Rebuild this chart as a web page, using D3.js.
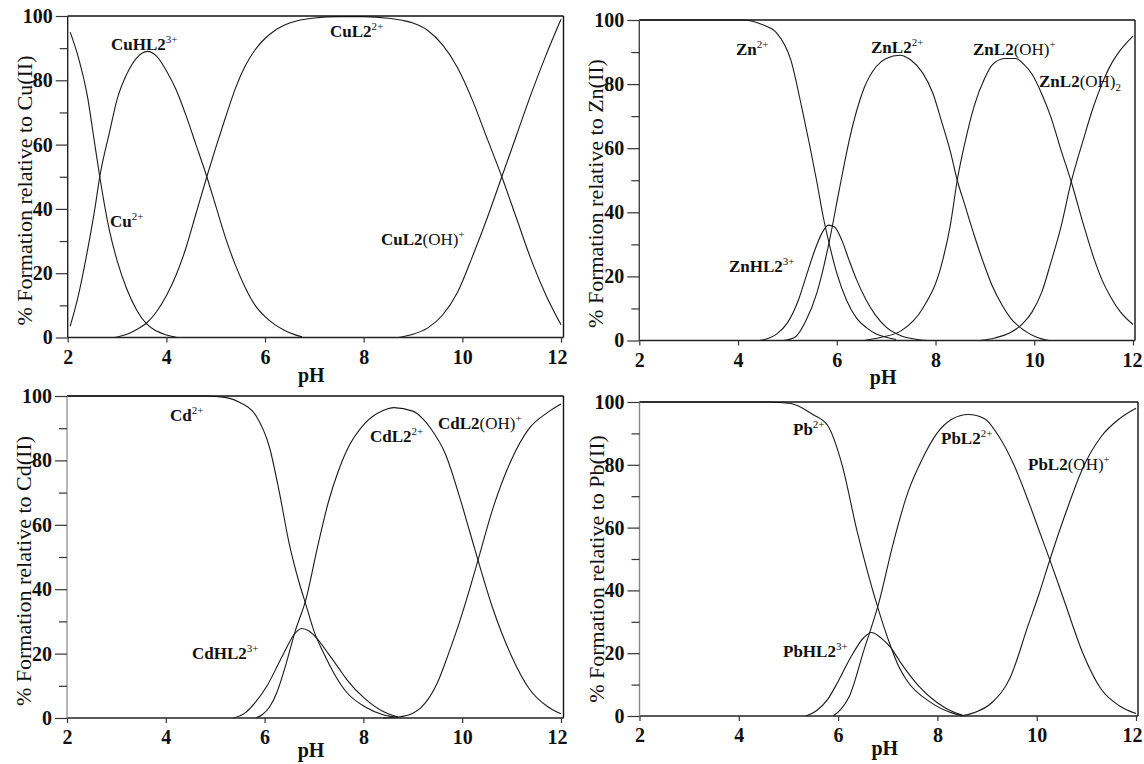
<!DOCTYPE html>
<html><head><meta charset="utf-8">
<script src="https://cdn.jsdelivr.net/npm/d3@7"></script>
<style>body{margin:0;background:#fff}svg{display:block}</style>
</head><body>
<svg id="c" width="1144" height="764"></svg>
<script>
// ---------- tick values ----------
const xTicks = [2, 4, 6, 8, 10, 12];
const yTicks = [0, 20, 40, 60, 80, 100];
const yMinor = [10, 30, 50, 70, 90];

// ---------- Cu(II) species: [pH, %] ----------
const cuFree = [[2.05,95],[2.2,88],[2.4,75],[2.55,60],[2.65,50],[2.85,33],[3.0,24],[3.2,15],[3.4,8.5],[3.6,4.2],[3.8,2],[4.0,0.8],[4.2,0.1]];
const cuHL2 = [[2.05,3.5],[2.2,12],[2.4,27],[2.55,40],[2.65,50],[2.85,64],[3.0,74],[3.2,82],[3.4,87],[3.62,89],[3.8,87.5],[4.0,83],[4.2,77],[4.4,69],[4.6,60],[4.82,50],[5.0,41],[5.2,31],[5.4,22.5],[5.6,15.5],[5.8,10],[6.0,6.5],[6.2,4],[6.4,2.2],[6.6,0.9],[6.75,0.2]];
const cuL2 = [[2.95,0],[3.2,1],[3.4,2.5],[3.6,4.5],[3.8,8],[4.0,13],[4.2,19.5],[4.4,28],[4.6,38.5],[4.82,50],[5.0,59],[5.2,68.5],[5.4,77.5],[5.6,84.5],[5.8,89.5],[6.0,93],[6.2,95.5],[6.5,97.8],[7.0,99.4],[7.5,99.8],[8.0,99.8],[8.5,99.3],[8.8,98.6],[9.0,97.8],[9.3,95.5],[9.6,91],[9.9,84],[10.2,74],[10.5,62],[10.8,50],[11.1,37],[11.4,24],[11.7,13],[12.0,4]];
const cuL2OH = [[8.7,0],[9.0,1],[9.3,3],[9.6,7],[9.9,14],[10.2,25],[10.5,37],[10.8,50],[11.1,63],[11.4,76],[11.7,88],[12.0,99]];

// ---------- Zn(II) species ----------
const znFree = [[2.0,100],[4.1,100],[4.5,98.5],[4.78,96],[5.07,87.5],[5.3,72],[5.45,61],[5.59,50],[5.72,39],[5.85,30],[6.0,21],[6.2,12.5],[6.4,7],[6.6,4],[6.8,2],[7.0,1],[7.2,0.3]];
const znHL2 = [[4.44,0],[4.78,2],[5.0,5.5],[5.22,12.5],[5.4,21],[5.55,28],[5.7,33.5],[5.83,36],[5.95,35.5],[6.11,31],[6.25,25],[6.4,19],[6.6,12.5],[6.78,8],[7.0,4.2],[7.3,1.5],[7.6,0.4],[7.85,0]];
const znL2 = [[4.93,0],[5.15,1],[5.37,6],[5.6,15],[5.85,31],[6.05,47],[6.26,63],[6.56,79],[6.8,85.5],[7.0,88],[7.28,89],[7.5,87.5],[7.74,83.5],[7.95,77],[8.11,69],[8.3,59],[8.44,50],[8.6,42],[8.78,33],[9.0,23],[9.15,17],[9.35,11],[9.52,7],[9.81,3],[10.05,1],[10.3,0]];
const znL2OH = [[6.56,0],[6.9,1],[7.3,3],[7.74,10],[8.11,23],[8.3,36],[8.44,50],[8.6,62],[8.78,73],[9.0,82],[9.15,86],[9.4,88],[9.62,88],[9.8,86],[9.96,83],[10.15,77],[10.33,70],[10.55,59],[10.74,50],[11.0,36],[11.2,26],[11.37,19],[11.55,13.5],[11.74,9],[12.0,5]];
const znL2OH2 = [[8.89,0],[9.2,0.8],[9.52,2.5],[9.75,5],[9.96,9],[10.15,15],[10.33,24],[10.55,36],[10.74,49],[11.0,63],[11.2,73],[11.37,80],[11.55,86],[11.74,90.5],[12.0,95]];

// ---------- Cd(II) species ----------
const cdFree = [[2.0,100],[4.8,100],[5.23,99.5],[5.5,98],[5.82,94],[6.1,84],[6.3,70],[6.5,54],[6.7,42],[6.84,35],[7.0,27],[7.2,20],[7.4,14],[7.66,8],[8.03,3.5],[8.4,1],[8.7,0.2]];
const cdHL2 = [[5.37,0],[5.6,1.5],[5.82,5],[6.05,10],[6.27,16.5],[6.45,22],[6.6,26],[6.75,27.8],[6.9,27],[7.07,24.5],[7.29,20],[7.5,15.5],[7.66,12],[8.03,6],[8.4,2],[8.7,0.3]];
const cdL2 = [[5.82,0],[5.95,1],[6.1,3.4],[6.25,8],[6.4,15],[6.62,27],[6.84,37],[7.07,53],[7.29,67],[7.5,77],[7.66,83],[8.03,91.5],[8.4,95.5],[8.62,96.4],[9.0,95.3],[9.2,93],[9.36,90],[9.66,82],[9.95,68.5],[10.15,58],[10.32,49],[10.62,34],[10.99,19.5],[11.36,9],[11.74,3.4],[12.0,1.3]];
const cdL2OH = [[8.4,0],[8.7,0.3],[9.0,1.5],[9.15,3],[9.5,11],[9.7,19],[9.95,30],[10.15,40],[10.32,49],[10.62,65],[10.99,80],[11.36,90],[11.74,95],[12.0,97.5]];

// ---------- Pb(II) species ----------
const pbFree = [[2.0,100],[4.6,100],[5.05,99.5],[5.49,96],[5.79,92.5],[6.08,80],[6.38,59],[6.6,45.5],[6.82,33.5],[7.04,23],[7.2,16.5],[7.4,11],[7.85,4.5],[8.29,1],[8.5,0.2]];
const pbHL2 = [[5.35,0],[5.55,1.5],[5.79,5.3],[6.0,11],[6.23,18],[6.52,25],[6.67,26.6],[6.89,24.5],[7.05,22],[7.26,17],[7.62,9.6],[7.99,4.3],[8.36,1],[8.5,0.3]];
const pbL2 = [[5.9,0],[6.05,2],[6.23,6.4],[6.52,21],[6.82,36],[7.11,55],[7.4,71],[7.7,82],[7.99,90],[8.29,94.5],[8.62,96],[8.95,94.7],[9.24,89],[9.54,80],[9.83,68.5],[10.05,59],[10.27,49.5],[10.57,36],[10.93,20],[11.3,8.5],[11.67,3.2],[12.0,0.8]];
const pbL2OH = [[8.45,0],[8.73,1],[9.1,4.3],[9.46,12],[9.83,29],[10.05,39],[10.27,50],[10.57,64],[10.93,79],[11.3,89],[11.67,94.7],[12.0,98]];

// ---------- curve labels (text parts) ----------
const cuLabels = [
  {x:111, y:50,  parts:[["CuHL2","b"],["3+","sup"]]},
  {x:330, y:37,  parts:[["CuL2","b"],["2+","sup"]]},
  {x:110, y:227, parts:[["Cu","b"],["2+","sup"]]},
  {x:381, y:245, parts:[["CuL2","b"],["(OH)","n"],["+","sup"]]}
];
const znLabels = [
  {x:736, y:55,  parts:[["Zn","b"],["2+","sup"]]},
  {x:871, y:53,  parts:[["ZnL2","b"],["2+","sup"]]},
  {x:973, y:55,  parts:[["ZnL2","b"],["(OH)","n"],["+","sup"]]},
  {x:1039,y:87,  parts:[["ZnL2","b"],["(OH)","n"],["2","sub"]]},
  {x:729, y:272, parts:[["ZnHL2","b"],["3+","sup"]]}
];
const cdLabels = [
  {x:170, y:421, parts:[["Cd","b"],["2+","sup"]]},
  {x:370, y:442, parts:[["CdL2","b"],["2+","sup"]]},
  {x:438, y:429, parts:[["CdL2","b"],["(OH)","n"],["+","sup"]]},
  {x:192, y:659, parts:[["CdHL2","b"],["3+","sup"]]}
];
const pbLabels = [
  {x:793, y:435, parts:[["Pb","b"],["2+","sup"]]},
  {x:941, y:444, parts:[["PbL2","b"],["2+","sup"]]},
  {x:1028,y:470, parts:[["PbL2","b"],["(OH)","n"],["+","sup"]]},
  {x:783, y:657, parts:[["PbHL2","b"],["3+","sup"]]}
];

const yTitles = ["% Formation relative to Cu(II)","% Formation relative to Zn(II)","% Formation relative to Cd(II)","% Formation relative to Pb(II)"];
const xTitle = "pH";

// ---------- layout ----------
const panels = [
  {x0:67.7, x1:561,  right:563.5, top:16,  bot:337.5, leftCol:"#222", titleDy:44, lastDx:-4, series:[cuFree,cuHL2,cuL2,cuL2OH], labels:cuLabels, ytitle:yTitles[0]},
  {x0:639.3,x1:1133, right:1135,  top:20,  bot:340.5, leftCol:"#444", titleDy:43, lastDx:-1, series:[znFree,znHL2,znL2,znL2OH,znL2OH2], labels:znLabels, ytitle:yTitles[1]},
  {x0:67,   x1:561,  right:563.5, top:396, bot:718,   leftCol:"#999", titleDy:39, lastDx:-4, series:[cdFree,cdHL2,cdL2,cdL2OH], labels:cdLabels, ytitle:yTitles[2]},
  {x0:639.5,x1:1136, right:1138,  top:402, bot:716,   leftCol:"#888", titleDy:39, lastDx:-4, series:[pbFree,pbHL2,pbL2,pbL2OH], labels:pbLabels, ytitle:yTitles[3]}
];

const FONT = '"Liberation Serif","Times New Roman",serif';
const svg = d3.select("#c");

panels.forEach(p => {
  const x = d3.scaleLinear().domain([2,12]).range([p.x0, p.x1]);
  const y = d3.scaleLinear().domain([0,100]).range([p.bot, p.top]);
  const g = svg.append("g");

  // curves
  const line = d3.line().x(d=>x(d[0])).y(d=>y(d[1])).curve(d3.curveMonotoneX);
  p.series.forEach(s => {
    g.append("path").attr("d", line(s)).attr("fill","none")
      .attr("stroke","#1a1a1a").attr("stroke-width",1.1);
  });

  // frame
  g.append("line").attr("x1",p.x0).attr("x2",p.right).attr("y1",p.top).attr("y2",p.top).attr("stroke","#111").attr("stroke-width",1.4);
  g.append("line").attr("x1",p.right).attr("x2",p.right).attr("y1",p.top).attr("y2",p.bot).attr("stroke","#111").attr("stroke-width",1.4);
  g.append("line").attr("x1",p.x0).attr("x2",p.right).attr("y1",p.bot).attr("y2",p.bot).attr("stroke","#222").attr("stroke-width",1.4);
  g.append("line").attr("x1",p.x0).attr("x2",p.x0).attr("y1",p.top).attr("y2",p.bot).attr("stroke",p.leftCol).attr("stroke-width",1.4);

  // y axis major
  const ya = g.append("g").attr("transform",`translate(${p.x0},0)`)
    .call(d3.axisLeft(y).tickValues(yTicks).tickSize(12).tickPadding(3).tickSizeOuter(0));
  ya.select(".domain").remove();
  ya.selectAll("line").attr("stroke","#333").attr("stroke-width",1.2);
  ya.selectAll("text").attr("font-family",FONT).attr("font-size",20).attr("font-weight","bold").attr("fill","#111");
  // y axis minor
  const ym = g.append("g").attr("transform",`translate(${p.x0},0)`)
    .call(d3.axisLeft(y).tickValues(yMinor).tickSize(8).tickFormat("").tickSizeOuter(0));
  ym.select(".domain").remove();
  ym.selectAll("line").attr("stroke","#333").attr("stroke-width",1.2);

  // x axis
  const xa = g.append("g").attr("transform",`translate(0,${p.bot})`)
    .call(d3.axisBottom(x).tickValues(xTicks).tickSize(5).tickPadding(7).tickSizeOuter(0));
  xa.select(".domain").remove();
  xa.selectAll("line").attr("stroke","#333").attr("stroke-width",1.2);
  xa.selectAll("text").attr("font-family",FONT).attr("font-size",20).attr("font-weight","bold").attr("fill","#111")
    .attr("dx", d => d===12 ? p.lastDx : 0);

  // titles
  g.append("text").attr("x",(p.x0+p.x1)/2-3).attr("y",p.bot+p.titleDy)
    .attr("text-anchor","middle").attr("font-family",FONT).attr("font-size",20).attr("font-weight","bold").attr("fill","#111").text(xTitle);
  const cy = p.bot-147;
  g.append("text").attr("transform",`translate(${p.x0-36},${cy}) rotate(-90)`)
    .attr("text-anchor","middle").attr("font-family",FONT).attr("font-size",22).attr("fill","#111").text(p.ytitle);

  // curve labels
  p.labels.forEach(L => {
    const t = g.append("text").attr("x",L.x).attr("y",L.y).attr("font-family",FONT).attr("font-size",17).attr("fill","#111");
    let shift = 0;
    L.parts.forEach(([txt,kind]) => {
      const ts = t.append("tspan").text(txt);
      if (kind==="sup") { ts.attr("font-size",11).attr("dy",-7-shift); shift=-7; }
      else if (kind==="sub") { ts.attr("font-size",11).attr("dy",4-shift); shift=4; }
      else { ts.attr("font-weight", kind==="b"?"bold":"normal"); if (shift){ ts.attr("dy",-shift); shift=0; } }
    });
  });
});
</script>
</body></html>
